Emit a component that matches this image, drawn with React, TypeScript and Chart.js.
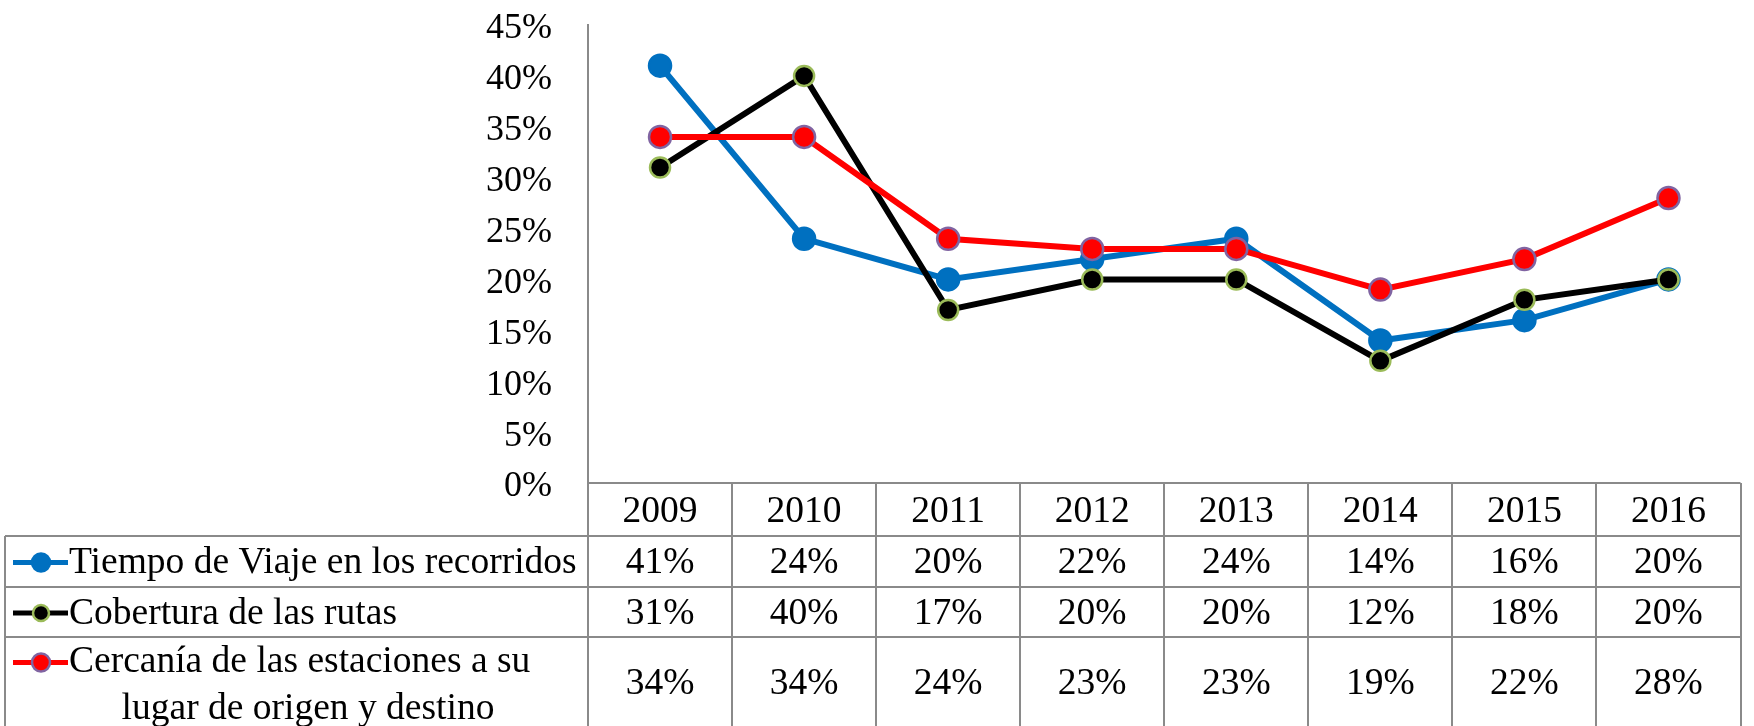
import React, { useEffect, useRef } from "react";
import { Chart, registerables } from "chart.js";

Chart.register(...registerables);

const years = ["2009", "2010", "2011", "2012", "2013", "2014", "2015", "2016"];
const tiempoViaje = [41, 24, 20, 22, 24, 14, 16, 20];
const cobertura = [31, 40, 17, 20, 20, 12, 18, 20];
const cercania = [34, 34, 24, 23, 23, 19, 22, 28];
const legendLines = [
  ["Tiempo de Viaje en los recorridos"],
  ["Cobertura de las rutas"],
  ["Cercanía de las estaciones a su", "lugar de origen y destino"],
];
const yMax = 45;
const yStep = 5;

const FONT = "'Liberation Serif', 'Times New Roman', serif";
const GRID = "#8a8a8a";

const seriesStyles = [
  { line: "#0070C0", fill: "#0070C0", border: "#0070C0", r: 11, kr: 10 },
  { line: "#000000", fill: "#000000", border: "#9BBB59", r: 10, kr: 9 },
  { line: "#FF0000", fill: "#FF0000", border: "#8064A2", r: 11, kr: 10 },
];
const seriesValues = [tiempoViaje, cobertura, cercania];

const tablePlugin = {
  id: "dataTable",
  afterDraw(chart: any) {
    const ctx: CanvasRenderingContext2D = chart.ctx;
    const area = chart.chartArea;
    const left = area.left;
    const right = area.right;
    const n = years.length;
    const colW = (right - left) / n;
    const top = area.bottom;
    const rowB = [top, top + 53, top + 104, top + 154, chart.height + 2];
    const tableLeft = 5;

    ctx.save();
    ctx.strokeStyle = GRID;
    ctx.lineWidth = 2;
    ctx.beginPath();
    ctx.moveTo(left, rowB[0]);
    ctx.lineTo(right, rowB[0]);
    for (let r = 1; r < 4; r++) {
      ctx.moveTo(tableLeft, rowB[r]);
      ctx.lineTo(right, rowB[r]);
    }
    for (let i = 0; i <= n; i++) {
      const x = Math.round(left + colW * i);
      ctx.moveTo(x, rowB[0]);
      ctx.lineTo(x, rowB[4]);
    }
    ctx.moveTo(tableLeft, rowB[1]);
    ctx.lineTo(tableLeft, rowB[4]);
    ctx.stroke();

    ctx.fillStyle = "#000";
    ctx.font = `37.5px ${FONT}`;
    ctx.textAlign = "center";
    ctx.textBaseline = "middle";
    const xs = chart.scales.x;
    years.forEach((y, i) => {
      const cx = xs.getPixelForValue(i);
      ctx.fillText(y, cx, (rowB[0] + rowB[1]) / 2 + 3);
    });
    seriesValues.forEach((vals, s) => {
      const cy = (rowB[s + 1] + rowB[s + 2]) / 2 + 2;
      vals.forEach((v, i) => {
        const cx = xs.getPixelForValue(i);
        ctx.fillText(`${v}%`, cx, cy);
      });
      const st = seriesStyles[s];
      const lines = legendLines[s];
      const keyY = lines.length > 1 ? cy - 22 : cy - 1;
      ctx.strokeStyle = st.line;
      ctx.lineWidth = 5;
      ctx.beginPath();
      ctx.moveTo(13, keyY);
      ctx.lineTo(68, keyY);
      ctx.stroke();
      ctx.beginPath();
      ctx.arc(41, keyY, st.kr - 1, 0, Math.PI * 2);
      ctx.fillStyle = st.fill;
      ctx.fill();
      ctx.lineWidth = 2.5;
      ctx.strokeStyle = st.border;
      ctx.stroke();
      ctx.fillStyle = "#000";
      if (lines.length === 1) {
        ctx.textAlign = "left";
        ctx.fillText(lines[0], 69, cy);
      } else {
        ctx.textAlign = "left";
        ctx.fillText(lines[0], 69, cy - 22);
        ctx.textAlign = "center";
        ctx.fillText(lines[1], 308, cy + 25);
      }
      ctx.textAlign = "center";
    });
    ctx.restore();
  },
};

export default function App() {
  const ref = useRef<HTMLCanvasElement | null>(null);
  useEffect(() => {
    if (!ref.current) return;
    const names = legendLines.map((l) => l.join(" "));
    const chart = new Chart(ref.current, {
      type: "line",
      data: {
        labels: years,
        datasets: seriesValues.map((vals, s) => ({
          label: names[s],
          data: vals,
          borderColor: seriesStyles[s].line,
          backgroundColor: seriesStyles[s].fill,
          borderWidth: 6,
          pointRadius: seriesStyles[s].r,
          pointBackgroundColor: seriesStyles[s].fill,
          pointBorderColor: seriesStyles[s].border,
          pointBorderWidth: 2.5,
          tension: 0,
          fill: false,
          order: 3 - s,
          clip: false as any,
        })),
      },
      options: {
        animation: false,
        responsive: false,
        maintainAspectRatio: false,
        layout: { padding: { top: 25, bottom: 243, right: 2, left: 0 } },
        plugins: { legend: { display: false }, tooltip: { enabled: false } },
        scales: {
          x: { display: false, offset: true },
          y: {
            min: 0,
            max: yMax,
            ticks: {
              stepSize: yStep,
              callback: (v: any) => `${v}%`,
              color: "#000",
              font: { family: FONT, size: 36 },
              padding: 0,
              labelOffset: 4,
            },
            grid: { display: false, drawTicks: true, tickLength: 36 },
            border: { display: true, color: GRID, width: 2 },
            afterFit: (s: any) => {
              s.width = 588;
            },
          },
        },
      },
      plugins: [tablePlugin],
    });
    return () => chart.destroy();
  }, []);
  return (
    <div style={{ position: "fixed", left: 0, top: 0, width: 1754, height: 726, background: "#fff" }}>
      <canvas ref={ref} width={1754} height={726} style={{ display: "block" }} />
    </div>
  );
}
